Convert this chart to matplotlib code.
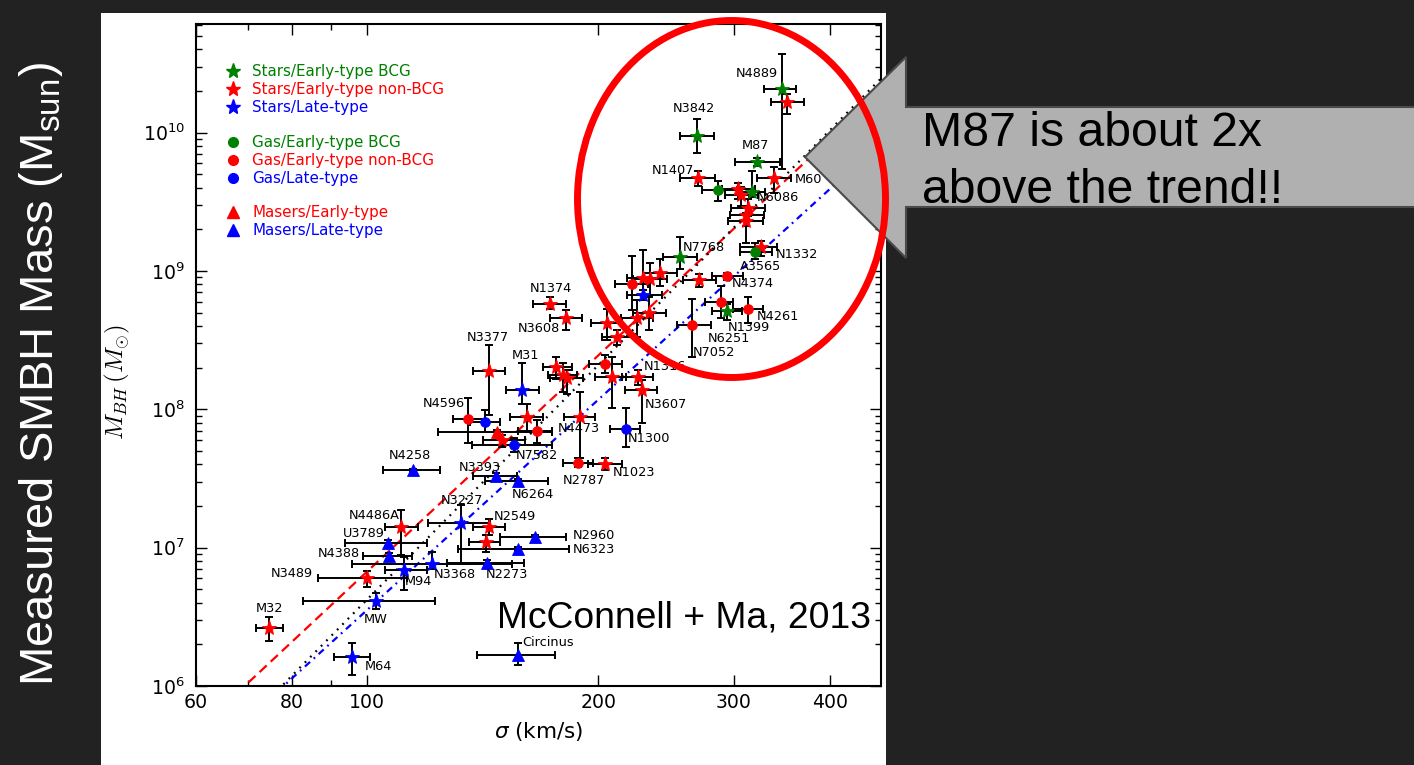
import numpy as np
import matplotlib
matplotlib.use("Agg")
import matplotlib.pyplot as plt
from matplotlib.patches import Ellipse, Polygon, Rectangle
from matplotlib.lines import Line2D
from matplotlib.legend import Legend
from matplotlib.ticker import FixedLocator, FixedFormatter, LogLocator, NullFormatter

plt.rcParams["lines.scale_dashes"] = False

W, H = 1414, 765

# ---------------------------------------------------------------------------
# Black-hole sample: (name, sigma, sigma_lo, sigma_hi, M_BH, M_lo, M_hi)
# sigma in km/s, masses in solar masses
# ---------------------------------------------------------------------------
stars_bcg = [
    ("N4889", 346.6, 328.4, 361.3, 2.08e10, 5.50e9, 3.72e10),
    ("N3842", 268.6, 255.3, 282.6, 9.51e9, 7.17e9, 1.26e10),
    ("M87", 321.5, 300.9, 344.6, 6.17e9, 5.78e9, 6.60e9),
    ("N6086", 316.7, 307.4, 329.4, 3.75e9, 3.40e9, 5.32e9),
    ("N7768", 255.3, 242.6, 268.6, 1.27e9, 1.04e9, 1.77e9),
    ("N1399", 293.8, 280.9, 307.4, 5.10e8, 4.39e8, 5.82e8),
]

stars_early = [
    ("", 351.9, 335.3, 370.1, 1.67e10, 1.37e10, 1.91e10),
    ("N1407", 269.4, 255.3, 283.4, 4.73e9, 4.14e9, 5.32e9),
    ("M60", 338.4, 321.5, 355.9, 4.73e9, 3.69e9, 5.68e9),
    ("", 303.6, 289.5, 319.6, 3.94e9, 3.34e9, 4.36e9),
    ("", 306.5, 292.1, 322.5, 3.57e9, 2.97e9, 4.07e9),
    ("", 313.0, 297.4, 329.4, 2.87e9, 2.48e9, 3.34e9),
    ("", 311.1, 296.5, 328.4, 2.56e9, 2.13e9, 2.97e9),
    ("", 311.1, 294.7, 327.4, 2.28e9, 1.58e9, 2.64e9),
    ("N1332", 325.4, 305.6, 341.4, 1.48e9, 1.29e9, 1.66e9),
    ("", 270.2, 257.6, 284.2, 8.54e8, 7.60e8, 9.44e8),
    ("", 228.5, 217.8, 240.5, 8.83e8, 6.12e8, 1.41e9),
    ("", 233.4, 221.7, 245.6, 8.68e8, 6.65e8, 1.15e9),
    ("", 240.5, 228.5, 253.0, 9.75e8, 7.73e8, 1.23e9),
    ("", 224.4, 214.0, 235.4, 4.61e8, 3.31e8, 6.12e8),
    ("", 232.6, 221.7, 244.8, 4.93e8, 3.72e8, 6.44e8),
    ("", 205.2, 195.6, 214.6, 4.18e8, 3.15e8, 5.27e8),
    ("", 211.4, 202.1, 223.1, 3.31e8, 2.90e8, 3.72e8),
    ("N1374", 173.0, 164.4, 181.4, 5.82e8, 5.27e8, 6.44e8),
    ("N3608", 181.4, 173.0, 190.4, 4.61e8, 3.72e8, 5.19e8),
    ("N3377", 144.1, 137.3, 151.2, 1.88e8, 9.05e7, 2.90e8),
    ("", 176.1, 169.4, 184.7, 2.01e8, 1.65e8, 2.37e8),
    ("", 179.8, 172.0, 187.5, 1.76e8, 1.33e8, 2.15e8),
    ("", 182.0, 173.0, 191.0, 1.68e8, 1.30e8, 1.91e8),
    ("", 208.3, 198.0, 217.2, 1.70e8, 1.03e8, 2.37e8),
    ("N1316", 225.1, 214.6, 235.4, 1.70e8, 1.49e8, 1.91e8),
    ("N3607", 227.8, 216.5, 238.3, 1.39e8, 7.92e7, 1.62e8),
    ("", 161.5, 153.5, 169.4, 8.75e7, 6.82e7, 1.10e8),
    ("N4473", 189.2, 180.4, 198.0, 8.75e7, 4.43e7, 1.33e8),
    ("N1023", 203.9, 193.8, 214.6, 4.01e7, 3.63e7, 4.43e7),
    ("", 149.8, 141.5, 160.5, 5.97e7, 5.32e7, 6.49e7),
    ("N2549", 144.1, 137.3, 151.2, 1.41e7, 1.23e7, 1.61e7),
    ("", 142.8, 135.7, 148.9, 1.10e7, 9.28e6, 1.23e7),
    ("N4486A", 110.7, 105.5, 116.5, 1.41e7, 8.83e6, 1.87e7),
    ("N3489", 100.0, 86.4, 112.7, 6.03e6, 5.19e6, 6.77e6),
    ("M32", 74.6, 71.9, 77.8, 2.62e6, 2.11e6, 3.15e6),
]

stars_late = [
    ("", 228.5, 217.8, 241.9, 6.65e8, 6.12e8, 7.23e8),
    ("M31", 159.1, 151.6, 167.4, 1.39e8, 1.10e8, 2.15e8),
    ("N3227", 132.5, 120.0, 144.5, 1.50e7, 7.60e6, 2.03e7),
    ("N3368", 121.5, 95.6, 154.4, 7.60e6, 7.00e6, 9.28e6),
    ("M94", 111.7, 105.5, 119.7, 6.88e6, 4.93e6, 8.54e6),
    ("MW", 102.7, 82.6, 122.6, 4.11e6, 3.60e6, 4.69e6),
    ("M64", 95.6, 90.6, 100.9, 1.62e6, 1.20e6, 2.04e6),
]

gas_bcg = [
    ("", 286.0, 272.6, 302.7, 3.88e9, 3.23e9, 4.50e9),
    ("A3565", 319.6, 305.6, 336.3, 1.38e9, 1.23e9, 1.58e9),
]

gas_early = [
    ("", 221.1, 210.1, 231.9, 7.99e8, 5.19e8, 1.29e9),
    ("N4374", 293.8, 280.9, 308.3, 9.13e8, 8.54e8, 9.75e8),
    ("N6251", 288.6, 275.1, 299.1, 5.92e8, 4.61e8, 7.73e8),
    ("N4261", 313.0, 299.1, 327.4, 5.27e8, 4.18e8, 6.44e8),
    ("N7052", 264.6, 253.0, 280.0, 4.04e8, 2.40e8, 6.30e8),
    ("", 203.9, 194.4, 214.6, 2.11e8, 1.82e8, 2.45e8),
    ("N4596", 135.3, 129.4, 142.3, 8.47e7, 5.68e7, 1.20e8),
    ("", 166.4, 157.2, 174.0, 6.94e7, 5.68e7, 8.33e7),
    ("N2787", 188.1, 179.8, 196.7, 4.07e7, 3.81e7, 4.43e7),
]

gas_late = [
    ("", 142.3, 136.1, 148.9, 8.06e7, 6.82e7, 9.84e7),
    ("N7582", 155.3, 136.9, 174.0, 5.50e7, 4.90e7, 6.20e7),
    ("N1300", 217.2, 207.0, 226.5, 7.17e7, 5.32e7, 1.03e8),
]

masers_early = [
    ("", 147.6, 123.7, 174.0, 6.82e7, 6.50e7, 7.10e7),
]

masers_late = [
    ("N4258", 114.8, 104.9, 124.4, 3.63e7, 3.55e7, 3.72e7),
    ("N3393", 147.2, 137.3, 156.7, 3.28e7, 3.10e7, 3.45e7),
    ("N6264", 157.2, 142.3, 172.0, 3.02e7, 2.90e7, 3.15e7),
    ("N2960", 165.4, 148.9, 181.4, 1.19e7, 1.14e7, 1.24e7),
    ("N6323", 157.2, 131.3, 183.1, 9.75e6, 9.40e6, 1.01e7),
    ("N2273", 143.2, 127.1, 160.0, 7.73e6, 7.30e6, 8.20e6),
    ("U3789", 106.5, 93.6, 119.7, 1.08e7, 1.02e7, 1.14e7),
    ("N4388", 106.8, 98.8, 114.4, 8.69e6, 8.30e6, 9.10e6),
    ("Circinus", 157.2, 139.0, 175.6, 1.67e6, 1.42e6, 2.04e6),
]

# M-sigma fits: log M = a + b log(sigma / 200 km/s)
fit_all = (8.32, 5.64)
fit_early = (8.39, 5.20)
fit_late = (8.07, 5.06)

x_ticks = [60, 80, 100, 200, 300, 400]
x_minor = [70, 90]

# legend groups: (label, marker, colour)
legend_stars = [("Stars/Early-type BCG", "*", "g"),
                ("Stars/Early-type non-BCG", "*", "r"),
                ("Stars/Late-type", "*", "b")]
legend_gas = [("Gas/Early-type BCG", "o", "g"),
              ("Gas/Early-type non-BCG", "o", "r"),
              ("Gas/Late-type", "o", "b")]
legend_masers = [("Masers/Early-type", "^", "r"),
                 ("Masers/Late-type", "^", "b")]

# label placement: offset in pixels (right, down) and alignment
label_pos = {
    "N4889": (-4, -15, "right"), "N3842": (-3, -27, "center"), "M87": (-2, -16, "center"),
    "N1407": (-4, -7, "right"), "M60": (21, 2, "left"), "N6086": (5, 6, "left"),
    "N7768": (3, -9, "left"), "N1332": (15, 7, "left"), "A3565": (-15, 15, "left"),
    "N4374": (5, 7, "left"), "N4261": (9, 7, "left"), "N1399": (1, 16, "left"),
    "N6251": (-13, 36, "left"), "N7052": (1, 27, "left"), "N1374": (1, -15, "center"),
    "N3608": (-6, 11, "right"), "N3377": (-1, -34, "center"), "M31": (4, -34, "center"),
    "N1316": (6, -11, "left"), "N3607": (3, 15, "left"), "N4596": (-3, -16, "right"),
    "N4473": (-22, 11, "left"), "N1300": (2, 9, "left"), "N7582": (2, 10, "left"),
    "N2787": (6, 17, "center"), "N1023": (8, 8, "left"), "N4258": (-3, -15, "center"),
    "N3393": (-16, -9, "center"), "N6264": (-6, 13, "left"), "N3227": (1, -23, "center"),
    "N2549": (5, -11, "left"), "N2960": (38, -2, "left"), "N6323": (55, 0, "left"),
    "N2273": (-1, 11, "left"), "N3368": (2, 10, "left"), "M94": (1, 11, "left"),
    "N4486A": (-1, -12, "right"), "U3789": (-3, -10, "right"), "N4388": (-29, -3, "right"),
    "N3489": (-54, -5, "right"), "MW": (0, 18, "center"), "M32": (1, -20, "center"),
    "M64": (13, 9, "left"), "Circinus": (4, -13, "left"),
}

# ---------------------------------------------------------------------------
fig = plt.figure(figsize=(W / 100, H / 100), dpi=100, facecolor="#222222")
fig.add_artist(Rectangle((101 / W, 0), (886 - 101) / W, 1 - 13 / H,
                         transform=fig.transFigure, facecolor="white",
                         edgecolor="none", zorder=-1))

ax = fig.add_axes([196 / W, 1 - 686 / H, (881 - 196) / W, (686 - 24) / H])
ax.set_facecolor("white")
ax.set_xscale("log")
ax.set_yscale("log")
ax.set_xlim(60, 466)
ax.set_ylim(1e6, 6.1e10)

# fit lines
fit_sigma = np.array([50.0, 520.0])
def fit_mass(p):
    return 10 ** (p[0] + p[1] * np.log10(fit_sigma / 200.0))

ax.plot(fit_sigma, fit_mass(fit_early), color="r", lw=1.6, dashes=(7, 4), zorder=2)
ax.plot(fit_sigma, fit_mass(fit_all), color="k", lw=1.6, dashes=(1.3, 4.2), zorder=2)
ax.plot(fit_sigma, fit_mass(fit_late), color="b", lw=1.6, dashes=(5, 3.5, 1.3, 3.5), zorder=2)

groups = [
    (stars_bcg, "*", "g", 11),
    (stars_early, "*", "r", 11),
    (stars_late, "*", "b", 11),
    (gas_bcg, "o", "g", 7),
    (gas_early, "o", "r", 7),
    (gas_late, "o", "b", 7),
    (masers_early, "^", "r", 8),
    (masers_late, "^", "b", 8),
]

for rows, mk, col, ms in groups:
    names = [r[0] for r in rows]
    sig = np.array([r[1] for r in rows])
    slo = np.array([r[2] for r in rows])
    shi = np.array([r[3] for r in rows])
    m = np.array([r[4] for r in rows])
    mlo = np.array([r[5] for r in rows])
    mhi = np.array([r[6] for r in rows])
    ax.errorbar(sig, m, xerr=[sig - slo, shi - sig], yerr=[m - mlo, mhi - m],
                fmt="none", ecolor="k", elinewidth=1.4, capsize=3, capthick=1.4,
                zorder=3)
    ax.plot(sig, m, ls="none", marker=mk, ms=ms, color=col, mec=col, mew=0.6,
            zorder=4)
    for nm, s, mm in zip(names, sig, m):
        if nm in label_pos:
            dx, dy, ha = label_pos[nm]
            ax.annotate(nm, (s, mm), xytext=(dx, -dy), textcoords="offset pixels",
                        ha=ha, va="center", fontsize=9.3, zorder=5)

# legends
def add_legend(entries, y_top):
    handles = [Line2D([], [], ls="none", marker=mk, color=c, mec=c,
                      ms=(11 if mk == "*" else 7 if mk == "o" else 8))
               for _, mk, c in entries]
    labels = [e[0] for e in entries]
    leg = Legend(ax, handles, labels, loc="upper left", bbox_to_anchor=(0.043, y_top),
                 frameon=False, fontsize=10.9, handlelength=1.0, handletextpad=0.77,
                 labelspacing=0.2, borderpad=0, borderaxespad=0, numpoints=1,
                 labelcolor=[e[2] for e in entries])
    ax.add_artist(leg)

add_legend(legend_stars, 0.939)
add_legend(legend_gas, 0.832)
add_legend(legend_masers, 0.726)

# axes styling
for sp in ax.spines.values():
    sp.set_linewidth(1.5)
ax.xaxis.set_major_locator(FixedLocator(x_ticks))
ax.xaxis.set_major_formatter(FixedFormatter([str(t) for t in x_ticks]))
ax.xaxis.set_minor_locator(FixedLocator(x_minor))
ax.xaxis.set_minor_formatter(NullFormatter())
ax.yaxis.set_major_locator(LogLocator(base=10, numticks=12))
ax.yaxis.set_minor_locator(LogLocator(base=10, subs=np.arange(2, 10), numticks=12))
ax.yaxis.set_minor_formatter(NullFormatter())
ax.tick_params(which="both", direction="in", top=True, right=True)
ax.tick_params(which="major", length=8, width=1, labelsize=13.6)
ax.tick_params(axis="x", which="major", pad=5)
ax.tick_params(axis="y", which="major", pad=8)
ax.tick_params(which="minor", length=4, width=1)

ax.set_xlabel(r"$\sigma$ (km/s)", fontsize=15.5, labelpad=6)
ax.set_ylabel(r"$M_{BH}\,(M_{\odot})$", fontsize=18, math_fontfamily="cm")
ax.yaxis.set_label_coords(-0.093, 0.459)

# slide annotations
fig.text(41 / W, 1 - 374 / H, r"Measured SMBH Mass (M$_\mathregular{sun}$)",
         rotation=90, color="white", fontsize=34, family="Liberation Sans",
         ha="center", va="center")

fig.text(497 / W, 1 - 628 / H, "McConnell + Ma, 2013", fontsize=26.8,
         family="Liberation Sans", va="baseline", ha="left", color="black", zorder=6)

arrow_px = [(805, 157), (906, 57), (906, 107), (1420, 107), (1420, 207),
            (906, 207), (906, 258)]
fig.add_artist(Polygon([(x / W, 1 - y / H) for x, y in arrow_px], closed=True,
                       transform=fig.transFigure, facecolor="#b0b0b0",
                       edgecolor="#4a4a4a", lw=1.5, zorder=4))
fig.text(922 / W, 1 - 146 / H, "M87 is about 2x", fontsize=34.7,
         family="Liberation Sans", va="baseline", ha="left", color="black", zorder=6)
fig.text(922 / W, 1 - 203 / H, "above the trend!!", fontsize=34.7,
         family="Liberation Sans", va="baseline", ha="left", color="black", zorder=6)

fig.add_artist(Ellipse((731.5 / W, 1 - 199 / H), 308 / W, 357 / H,
                       transform=fig.transFigure, facecolor="none",
                       edgecolor="#ff0000", lw=5, zorder=5))

fig.savefig("out.png", dpi=100, facecolor=fig.get_facecolor())
